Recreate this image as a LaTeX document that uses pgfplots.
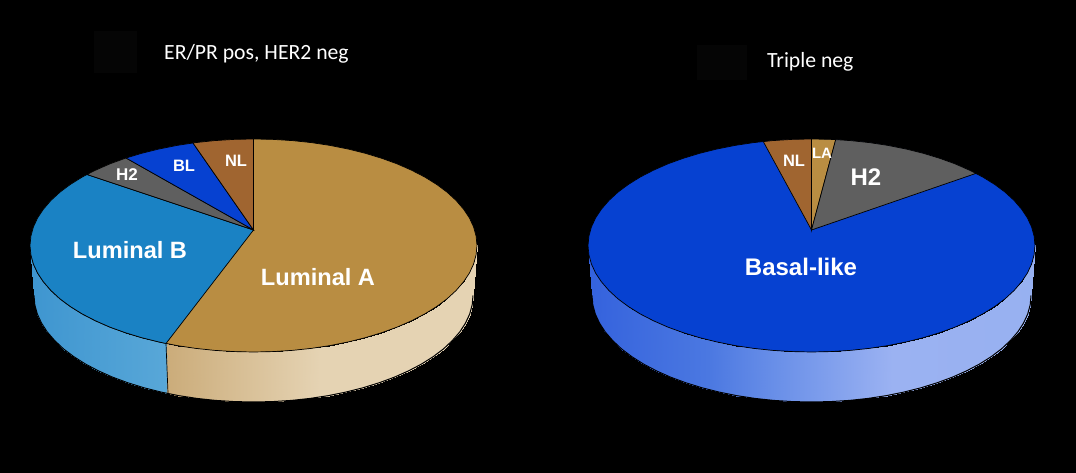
\documentclass[border=0pt]{standalone}
\usepackage{fontspec}
\setmainfont{Liberation Sans}
\newfontfamily\legendfont{Carlito}
\usepackage{pgfplots}
\usepackage{pgfplotstable}
\pgfplotsset{compat=1.18}

\definecolor{lumA}{RGB}{185,141,66}
\definecolor{lumB}{RGB}{26,130,196}
\definecolor{basal}{RGB}{6,65,209}
\definecolor{herTwo}{RGB}{95,95,95}
\definecolor{normal}{RGB}{160,101,48}
\definecolor{swatch}{RGB}{5,5,5}

% top face of the left pie, in image pixels, clockwise from 12 o'clock
\pgfplotstableread{
x y
253.5 139
273 139.4
292.3 140.6
311.3 142.6
329.9 145.4
348 149
365.3 153.3
381.7 158.3
397.2 163.9
411.5 170.2
424.7 177
436.6 184.4
447.1 192.2
456.1 200.5
463.5 209.1
469.4 217.9
473.6 227
476.1 236.2
477 245.5
476.1 254.8
473.6 264
469.4 273.1
463.5 281.9
456.1 290.5
447.1 298.8
436.6 306.6
424.7 314
411.5 320.8
397.2 327.1
381.7 332.7
365.3 337.7
348 342
329.9 345.6
311.3 348.4
292.3 350.4
273 351.6
253.5 352
234 351.6
214.7 350.4
195.7 348.4
177.1 345.6
159 342
141.7 337.7
125.3 332.7
109.8 327.1
95.5 320.8
82.3 314
70.4 306.6
59.9 298.8
50.9 290.5
43.5 281.9
37.6 273.1
33.4 264
30.9 254.8
30 245.5
30.9 236.2
33.4 227
37.6 217.9
43.5 209.1
50.9 200.5
59.9 192.2
70.4 184.4
82.3 177
95.5 170.2
109.8 163.9
125.3 158.3
141.7 153.3
159 149
177.1 145.4
195.7 142.6
214.7 140.6
234 139.4
253.5 139
}\topface

% side wall: upper row then lower row, left to right
\pgfplotstableread{
x y
30 245.5
30.9 254.8
33.4 264
37.6 273.1
43.5 281.9
50.9 290.5
59.9 298.8
70.4 306.6
82.3 314
95.5 320.8
109.8 327.1
125.3 332.7
141.7 337.7
159 342
177.1 345.6
195.7 348.4
214.7 350.4
234 351.6
253.5 352
273 351.6
292.3 350.4
311.3 348.4
329.9 345.6
348 342
365.3 337.7
381.7 332.7
397.2 327.1
411.5 320.8
424.7 314
436.6 306.6
447.1 298.8
456.1 290.5
463.5 281.9
469.4 273.1
473.6 264
476.1 254.8
477 245.5
34 295.5
34.8 304.8
37.3 314
41.5 323.1
47.2 331.9
54.6 340.5
63.4 348.8
73.7 356.6
85.4 364
98.3 370.8
112.4 377.1
127.6 382.7
143.7 387.7
160.7 392
178.4 395.6
196.7 398.4
215.4 400.4
234.4 401.6
253.5 402
272.6 401.6
291.6 400.4
310.3 398.4
328.6 395.6
346.3 392
363.3 387.7
379.4 382.7
394.6 377.1
408.7 370.8
421.6 364
433.3 356.6
443.6 348.8
452.4 340.5
459.8 331.9
465.5 323.1
469.7 314
472.2 304.8
473 295.5
}\walldata
\pgfplotstablecreatecol[create col/set={0}]{z}{\walldata}

\begin{document}
\begin{tikzpicture}
\begin{axis}[
    width=1076pt, height=473pt,
    scale only axis,
    hide axis,
    view={0}{90},
    xmin=0, xmax=1076,
    ymin=0, ymax=473,
    y dir=reverse,
    point meta min=0, point meta max=1076,
    colormap={walls}{
        rgb255(0pt)=(63,150,208)
        rgb255(34pt)=(63,150,208)
        rgb255(166pt)=(88,167,216)
        rgb255(167pt)=(203,172,122)
        rgb255(320pt)=(229,211,179)
        rgb255(480pt)=(229,211,179)
        rgb255(587pt)=(52,98,221)
        rgb255(708pt)=(75,120,225)
        rgb255(775pt)=(105,143,232)
        rgb255(892pt)=(155,178,242)
        rgb255(1076pt)=(150,176,240)
    },
]
% background and the two near-black legend swatches
\addplot[fill=black, draw=none] coordinates {(0,0) (1076,0) (1076,473) (0,473)} -- cycle;
\addplot[fill=swatch, draw=none] coordinates {(94,31) (137,31) (137,73) (94,73)} -- cycle;
\addplot[fill=swatch, draw=none] coordinates {(697,45) (747,45) (747,80) (697,80)} -- cycle;

% side walls
\addplot3[surf, shader=interp, mesh/rows=2, point meta=x] table[x=x, y=y, z=z] {\walldata};
\addplot3[surf, shader=interp, mesh/rows=2, point meta=x] table[x expr=\thisrow{x}+558, y=y, z=z] {\walldata};
% black trim so the lower rim of the shaded walls stays clean
\addplot[black, line width=1pt, skip coords between index={0}{37}] table[x=x, y=y] {\walldata};
\addplot[black, line width=1pt, skip coords between index={0}{37}] table[x expr=\thisrow{x}+558, y=y] {\walldata};
\addplot[black, line width=0.7pt] coordinates {(166,343.5) (168,393)};

% left pie
\addplot[fill=lumA, draw=black, line width=0.7pt] table[x=x, y=y] {\topface} -- cycle;
\addplot[fill=lumB, draw=black, line width=0.7pt] coordinates {
    (253.5,230) (166,343.5) (159,342) (141.7,337.7) (125.3,332.7) (109.8,327.1)
    (95.5,320.8) (82.3,314) (70.4,306.6) (59.9,298.8) (50.9,290.5) (43.5,281.9)
    (37.6,273.1) (33.4,264) (30.9,254.8) (30,245.5) (30.9,236.2) (33.4,227)
    (37.6,217.9) (43.5,209.1) (50.9,200.5) (59.9,192.2) (70.4,184.4) (82.3,177)
    (87,174.5)} -- cycle;
\addplot[fill=herTwo, draw=black, line width=0.7pt] coordinates {
    (253.5,230) (87,174.5) (95.5,170.2) (109.8,163.9) (126,158)} -- cycle;
\addplot[fill=basal, draw=black, line width=0.7pt] coordinates {
    (253.5,230) (126,158) (141.7,153.3) (159,149) (177.1,145.4) (193,143)} -- cycle;
\addplot[fill=normal, draw=black, line width=0.7pt] coordinates {
    (253.5,230) (193,143) (195.7,142.6) (214.7,140.6) (234,139.4) (253.5,139)} -- cycle;

% right pie
\addplot[fill=basal, draw=black, line width=0.7pt] table[x expr=\thisrow{x}+558, y=y] {\topface} -- cycle;
\addplot[fill=normal, draw=black, line width=0.7pt] coordinates {
    (811.5,230) (763.3,141.6) (772.7,140.6) (792,139.4) (811.5,139)} -- cycle;
\addplot[fill=lumA, draw=black, line width=0.7pt] coordinates {
    (811.5,230) (811.5,139) (831,139.4) (835.7,139.6)} -- cycle;
\addplot[fill=herTwo, draw=black, line width=0.7pt] coordinates {
    (811.5,230) (835.7,139.6) (850.3,140.6) (869.3,142.6) (887.9,145.4) (906,149)
    (923.3,153.3) (939.7,158.3) (955.2,163.9) (969.5,170.2) (976,173.4)} -- cycle;

% labels
\node[white, font=\fontsize{23.6}{26}\selectfont\bfseries] at (axis cs:318,277) {Luminal A};
\node[white, font=\fontsize{23.6}{26}\selectfont\bfseries] at (axis cs:130,250) {Luminal B};
\node[white, font=\fontsize{17}{19}\selectfont\bfseries] at (axis cs:127,175) {H2};
\node[white, font=\fontsize{16.5}{18}\selectfont\bfseries] at (axis cs:184,166) {BL};
\node[white, font=\fontsize{16.5}{18}\selectfont\bfseries] at (axis cs:236,161) {NL};
\node[white, font=\fontsize{24}{26}\selectfont\bfseries] at (axis cs:801,267) {Basal-like};
\node[white, font=\fontsize{16.5}{18}\selectfont\bfseries] at (axis cs:794,161) {NL};
\node[white, font=\fontsize{15}{17}\selectfont\bfseries] at (axis cs:822,153) {LA};
\node[white, font=\fontsize{24}{26}\selectfont\bfseries] at (axis cs:866,177) {H2};
\node[white, anchor=west, inner sep=0pt, font=\legendfont\fontsize{21.7}{24}\selectfont] at (axis cs:164,54) {ER/PR pos, HER2 neg};
\node[white, anchor=west, inner sep=0pt, font=\legendfont\fontsize{21.7}{24}\selectfont] at (axis cs:767,62) {Triple neg};
\end{axis}
\end{tikzpicture}
\end{document}
